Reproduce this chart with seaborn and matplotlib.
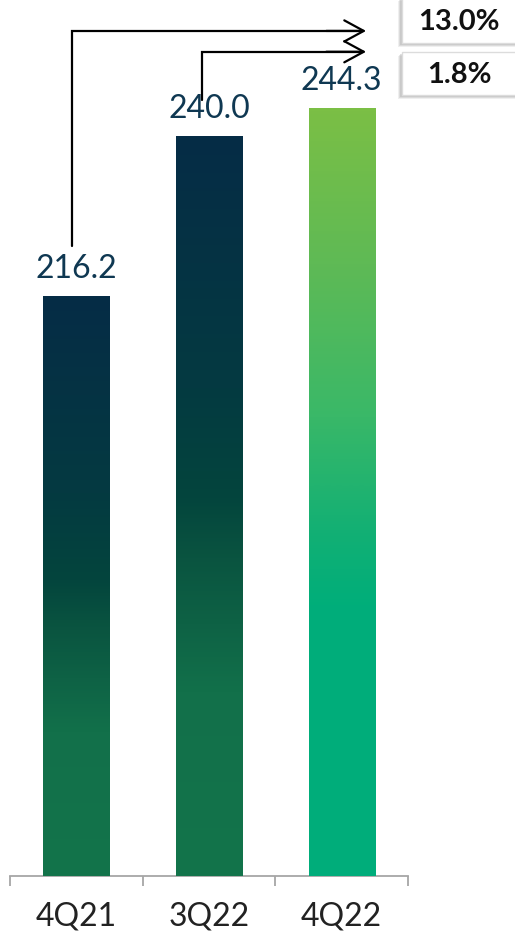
import numpy as np
import matplotlib
matplotlib.use("Agg")
import matplotlib.pyplot as plt
from matplotlib.colors import LinearSegmentedColormap
from matplotlib.patches import Rectangle
import seaborn as sns

# Quarterly values
categories = ["4Q21", "3Q22", "4Q22"]
values = [216.2, 240.0, 244.3]
# Growth of the latest quarter vs. the earlier ones
growth_from = [0, 1]
growth_labels = ["13.0%", "1.8%"]

sns.set_theme(style="white")
plt.rcParams["font.family"] = ["Lato", "DejaVu Sans"]

W, H = 515, 933
fig = plt.figure(figsize=(W / 100, H / 100), dpi=100)
ax = fig.add_axes([10 / W, (H - 876) / H, (408 - 10) / W, 876 / H])

sns.barplot(x=categories, y=values, ax=ax, width=0.5, color="white",
            edgecolor="none", linewidth=0)

ymin, ymax = 130, 260.3
ax.set_ylim(ymin, ymax)
ax.set_xlim(-0.5, 2.5)

dark_cmap = LinearSegmentedColormap.from_list(
    "dark", [(0.0, "#062c46"), (0.34, "#043a41"), (0.49, "#03453d"),
             (0.57, "#0a5440"), (0.75, "#12704a"), (1.0, "#13744b")])
light_cmap = LinearSegmentedColormap.from_list(
    "light", [(0.0, "#7bbf45"), (0.2, "#5fba55"), (0.4, "#3ab868"),
              (0.55, "#13b074"), (0.65, "#00ae7a"), (1.0, "#00ad7b")])

grad = np.linspace(0, 1, 256).reshape(-1, 1)
bars = ax.patches[:len(values)]
for i, p in enumerate(bars):
    x0, w, top = p.get_x(), p.get_width(), p.get_height()
    cmap = light_cmap if i == len(values) - 1 else dark_cmap
    im = ax.imshow(grad, cmap=cmap, extent=[x0, x0 + w, ymin, top],
                   origin="upper", aspect="auto", zorder=3,
                   interpolation="bilinear")
    im.set_clip_path(p)
    p.set_facecolor("none")
    ax.annotate(f"{values[i]:.1f}", xy=(x0 + w / 2, top),
                xytext=(0, 13), textcoords="offset points",
                ha="center", va="baseline", fontsize=23,
                color="#0f3852", zorder=5)

ax.set_xlim(-0.5, 2.5)
ax.set_ylim(ymin, ymax)

# Axis styling: only the baseline, with category separators
for s in ["left", "right", "top"]:
    ax.spines[s].set_visible(False)
ax.spines["bottom"].set_color("#a6a6a6")
ax.spines["bottom"].set_linewidth(1.3)
ax.set_yticks([])
ax.set_xticks(range(len(categories)))
ax.set_xticklabels(categories, fontsize=23, color="#222222")
ax.set_xticks(np.arange(-0.5, len(categories)), minor=True)
ax.tick_params(axis="x", which="major", length=0, pad=18)
ax.tick_params(axis="x", which="minor", length=7.5, width=1.3,
               color="#a6a6a6", direction="out", bottom=True)
ax.set_xlabel("")
ax.set_ylabel("")

# Growth arrows from earlier bars to the latest one
arrow_y = [255.7, 252.6]
start_dx = [-0.035, -0.05]
start_y = [values[0] + 7.5, values[1] + 5.4]
x_end = 2.184
for k, src in enumerate(growth_from):
    xs = src + start_dx[k]
    ax.plot([xs, xs, x_end - 0.02], [start_y[k], arrow_y[k], arrow_y[k]],
            color="black", lw=1.6, solid_joinstyle="miter",
            clip_on=False, zorder=6)
    ax.annotate("", xy=(x_end, arrow_y[k]), xytext=(x_end - 0.3, arrow_y[k]),
                arrowprops=dict(arrowstyle="->,head_length=0.7,head_width=0.38",
                                color="black", lw=1.6, shrinkA=0, shrinkB=0,
                                mutation_scale=20),
                annotation_clip=False, zorder=6)

# Growth boxes at the right edge, with a soft shadow on the lower left
boxes = [(-3, 43), (52, 95)]
for (top_px, bot_px), lab in zip(boxes, growth_labels):
    x0 = 402
    for off, alpha in [(4, 0.2), (3, 0.3), (2, 0.4)]:
        shadow = Rectangle(((x0 - off) / W, 1 - (bot_px + off) / H),
                           (W - x0 + 10) / W, (bot_px - top_px) / H,
                           transform=fig.transFigure, facecolor="#b0b0b0",
                           edgecolor="none", alpha=alpha, zorder=7)
        fig.add_artist(shadow)
    box = Rectangle((x0 / W, 1 - bot_px / H), (W - x0 + 10) / W,
                    (bot_px - top_px) / H, transform=fig.transFigure,
                    facecolor="white", edgecolor="#dcdcdc", lw=1, zorder=8)
    fig.add_artist(box)
    fig.text(459 / W, 1 - ((top_px + bot_px) / 2 + 1.5) / H, lab,
             ha="center", va="center", fontsize=21, fontweight="bold",
             color="#111111", zorder=9)

fig.savefig("out.png", dpi=100)
